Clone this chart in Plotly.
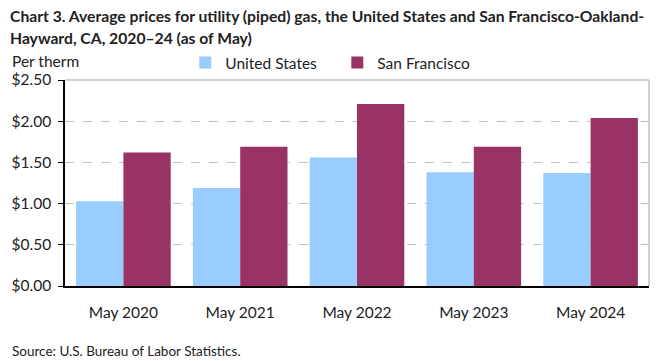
import plotly.graph_objects as go

categories = ["May 2020", "May 2021", "May 2022", "May 2023", "May 2024"]
us_values = [1.03, 1.19, 1.56, 1.38, 1.37]
sf_values = [1.62, 1.69, 2.21, 1.69, 2.04]
tick_vals = [0, 0.5, 1.0, 1.5, 2.0, 2.5]
tick_text = ["$0.00", "$0.50", "$1.00", "$1.50", "$2.00", "$2.50"]

FONT = "Lato"
TXT = "#222222"

fig = go.Figure()
fig.add_trace(go.Bar(name="United States", x=categories, y=us_values,
                     marker_color="#99ccff", marker_line_width=0))
fig.add_trace(go.Bar(name="San Francisco", x=categories, y=sf_values,
                     marker_color="#993366", marker_line_width=0))

fig.update_layout(
    width=661, height=361,
    margin=dict(l=62, r=12, t=80, b=75),
    paper_bgcolor="white", plot_bgcolor="white",
    font=dict(family=FONT, size=15.5, color=TXT),
    barmode="group", bargap=0.19, bargroupgap=0,
    legend=dict(orientation="h", x=0.206, xanchor="left", y=1.0825, yanchor="middle",
                font=dict(size=15.5), itemwidth=30, traceorder="normal",
                entrywidth=107, entrywidthmode="pixels",
                bgcolor="rgba(0,0,0,0)"),
    showlegend=True,
)
fig.update_yaxes(range=[0, 2.5], tickvals=tick_vals, ticktext=tick_text,
                 showgrid=True, gridcolor="#c0c0c0", griddash="dash", gridwidth=1,
                 showline=True, linecolor="black", linewidth=1.5,
                 ticks="outside", ticklen=5, tickcolor="black", tickwidth=1,
                 ticklabelstandoff=4, zeroline=False, fixedrange=True)
fig.update_xaxes(showline=True, linecolor="black", linewidth=1.5, ticks="",
                 showgrid=False, fixedrange=True, ticklabelstandoff=12)

fig.add_shape(type="line", xref="paper", yref="paper", x0=0, x1=1, y0=1, y1=1,
              line=dict(color="#c0c0c0", width=1.5))
fig.add_shape(type="line", xref="paper", yref="paper", x0=1, x1=1, y0=0, y1=1,
              line=dict(color="#c0c0c0", width=1.5))

fig.add_annotation(text="<b>Chart 3. Average prices for utility (piped) gas, the United States and San Francisco-Oakland-</b>",
                   xref="paper", yref="paper", x=-0.0971, y=1.3107, xanchor="left", yanchor="middle",
                   showarrow=False, font=dict(size=15.7, color=TXT))
fig.add_annotation(text="<b>Hayward, CA, 2020–24 (as of May)</b>",
                   xref="paper", yref="paper", x=-0.0971, y=1.2039, xanchor="left", yanchor="middle",
                   showarrow=False, font=dict(size=15.7, color=TXT))
fig.add_annotation(text="Per therm", xref="paper", yref="paper", x=-0.094, y=1.092,
                   xanchor="left", yanchor="middle", showarrow=False, font=dict(size=15.5))
fig.add_annotation(text="Source: U.S. Bureau of Labor Statistics.", xref="paper", yref="paper",
                   x=-0.094, y=-0.316, xanchor="left", yanchor="middle", showarrow=False,
                   font=dict(size=13.5))

fig.write_html("out.html", config={"displayModeBar": False},
               post_script="document.body.style.margin='0';document.body.style.padding='0';")
